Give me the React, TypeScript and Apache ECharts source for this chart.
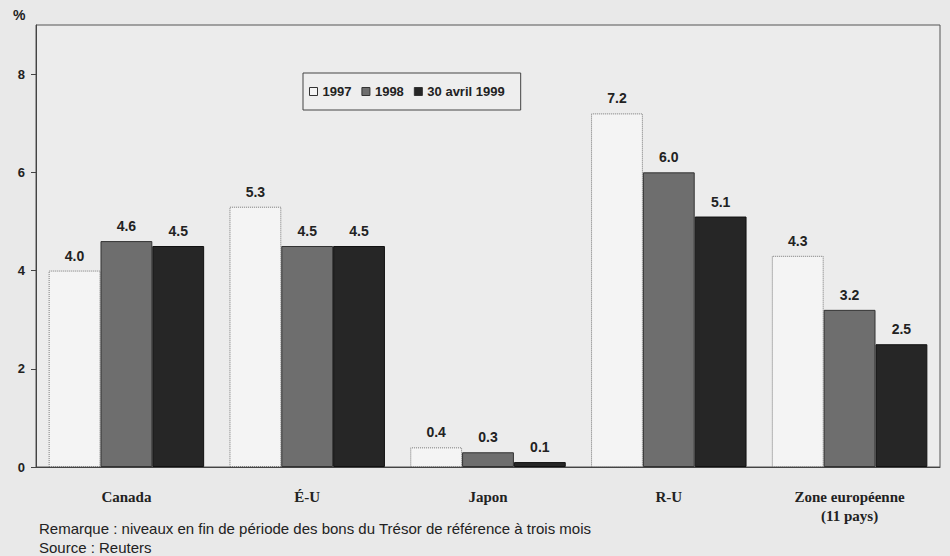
import React, { useEffect, useRef } from "react";
import * as echarts from "echarts";

const categories = ["Canada", "É-U", "Japon", "R-U", "Zone européenne\n(11 pays)"];
const seriesNames = ["1997", "1998", "30 avril 1999"];
const values1997 = [4.0, 5.3, 0.4, 7.2, 4.3];
const values1998 = [4.6, 4.5, 0.3, 6.0, 3.2];
const valuesApr1999 = [4.5, 4.5, 0.1, 5.1, 2.5];
const yTicks = [0, 2, 4, 6, 8];
const footnotes = [
  "Remarque : niveaux en fin de période des bons du Trésor de référence à trois mois",
  "Source : Reuters",
];

const SANS = "'Liberation Sans', Arial, sans-serif";
const SERIF = "'Liberation Serif', 'Times New Roman', serif";

export default function App() {
  const ref = useRef<HTMLDivElement>(null);
  useEffect(() => {
    if (!ref.current) return;
    const chart = echarts.init(ref.current, undefined, { renderer: "svg" });
    const label = {
      show: true,
      position: "top",
      distance: 8,
      formatter: (p: any) => Number(p.value).toFixed(1),
      color: "#222",
      fontFamily: SANS,
      fontWeight: "bold",
      fontSize: 14,
    };
    const styles = [
      { color: "#f4f4f4", borderColor: "#777", borderWidth: 1, borderType: "dotted" },
      { color: "#6e6e6e", borderColor: "#333", borderWidth: 1 },
      { color: "#262626", borderColor: "#111", borderWidth: 1 },
    ];
    const data = [values1997, values1998, valuesApr1999];
    chart.setOption({
      animation: false,
      backgroundColor: "#e9e9e9",
      grid: {
        left: 36,
        right: 10,
        top: 25,
        bottom: 89,
        show: true,
        borderColor: "#555",
        borderWidth: 1,
        backgroundColor: "#ececec",
      },
      legend: {
        left: 303,
        top: 73,
        orient: "horizontal",
        padding: [12, 16, 12, 6],
        itemGap: 10,
        itemWidth: 8,
        itemHeight: 8,
        borderColor: "#444",
        borderWidth: 1,
        backgroundColor: "#eeeeee",
        textStyle: { fontFamily: SANS, fontWeight: "bold", fontSize: 13, color: "#222" },
        data: seriesNames.map((n, i) => ({
          name: n,
          icon: "rect",
          itemStyle: { ...styles[i], borderType: "solid", borderColor: "#333" },
        })),
      },
      xAxis: {
        type: "category",
        data: categories,
        axisLine: { lineStyle: { color: "#444", width: 1 } },
        axisTick: { show: false },
        axisLabel: {
          margin: 20,
          fontFamily: SERIF,
          fontWeight: "bold",
          fontSize: 15,
          lineHeight: 19,
          color: "#222",
          interval: 0,
        },
      },
      yAxis: {
        type: "value",
        min: 0,
        max: 9,
        interval: 1,
        splitLine: { show: false },
        axisLine: { show: true, lineStyle: { color: "#444", width: 1 } },
        axisTick: { show: true, length: 5, lineStyle: { color: "#444" }, customValues: yTicks },
        axisLabel: {
          customValues: yTicks,
          margin: 11,
          fontFamily: SANS,
          fontWeight: "bold",
          fontSize: 13,
          color: "#222",
        },
      },
      series: data.map((d, i) => ({
        name: seriesNames[i],
        type: "bar",
        data: d,
        barGap: "0%",
        barCategoryGap: "14%",
        itemStyle: styles[i],
        label,
      })),
      graphic: [
        {
          type: "text",
          left: 13,
          top: 8,
          style: { text: "%", font: `bold 14px ${SANS}`, fill: "#222" },
        },
        {
          type: "text",
          left: 39,
          top: 519,
          style: {
            text: footnotes.join("\n"),
            font: `15px ${SANS}`,
            lineHeight: 19,
            fill: "#222",
          },
        },
      ],
    });
    return () => chart.dispose();
  }, []);
  return (
    <div
      ref={ref}
      style={{ position: "fixed", left: 0, top: 0, width: 950, height: 556 }}
    />
  );
}
